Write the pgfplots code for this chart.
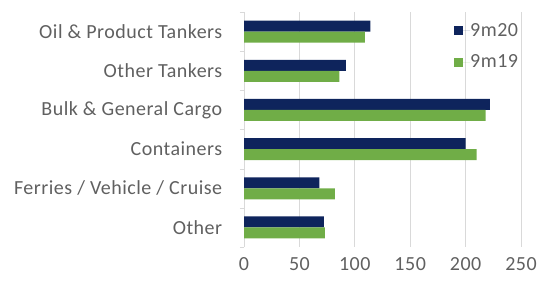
\documentclass[border=0pt]{standalone}
\usepackage{pgfplots}
\pgfplotsset{compat=1.18}
\usepackage{fontspec}
\setmainfont{Carlito}[LetterSpace=2.5]
\definecolor{navy}{RGB}{14,36,92}
\definecolor{lgreen}{RGB}{112,173,71}
\definecolor{txt}{RGB}{96,96,96}
\definecolor{gridc}{RGB}{217,217,217}
\begin{document}
\begin{tikzpicture}
\useasboundingbox (0,0) rectangle (538pt,282pt);
\begin{axis}[
  at={(244pt,35pt)}, anchor=south west,
  scale only axis,
  width=277pt, height=235pt,
  xbar, bar width=11pt,
  xmin=0, xmax=250,
  ymin=-0.5, ymax=5.5,
  y dir=reverse,
  axis x line*=bottom,
  x axis line style={draw=none},
  major x tick style={draw=none},
  axis y line*=left,
  y axis line style={draw=gridc},
  xmajorgrids, grid style={gridc, line width=0.8pt},
  xtick={0,50,100,150,200,250},
  xticklabel style={font=\fontsize{20}{22}\selectfont, text=txt, anchor=center, yshift=-13pt},
  ytick={0,1,2,3,4,5},
  yticklabels={Oil \& Product Tankers, Other Tankers, Bulk \& General Cargo, Containers, Ferries / Vehicle / Cruise, Other},
  major y tick style={draw=none},
  minor ytick={-0.5,0.5,1.5,2.5,3.5,4.5,5.5},
  minor tick length=4pt, tick align=outside,
  minor y tick style={draw=gridc},
  yticklabel style={font=\fontsize{20}{22}\selectfont, text=txt, xshift=-14pt},
  /pgf/number format/assume math mode=true,
  legend style={at={(0.758,0.952)}, anchor=north west, draw=none, fill=none,
    font=\fontsize{20}{22}\selectfont, text=txt, row sep=17pt, inner sep=0pt,
    nodes={inner sep=0pt}},
  legend image code/.code={\fill[#1] (0pt,-4.5pt) rectangle (9pt,4.5pt); \path (0pt,0pt) -- (16pt,0pt);},
  clip=false,
]
\addplot[fill=navy, draw=none, bar shift=5.5pt] coordinates {(114,0) (92,1) (222,2) (200,3) (68,4) (72,5)};
\addplot[fill=lgreen, draw=none, bar shift=-5.5pt] coordinates {(109,0) (86,1) (218,2) (210,3) (82,4) (73,5)};
\legend{9m20, 9m19}
\end{axis}
\end{tikzpicture}
\end{document}
